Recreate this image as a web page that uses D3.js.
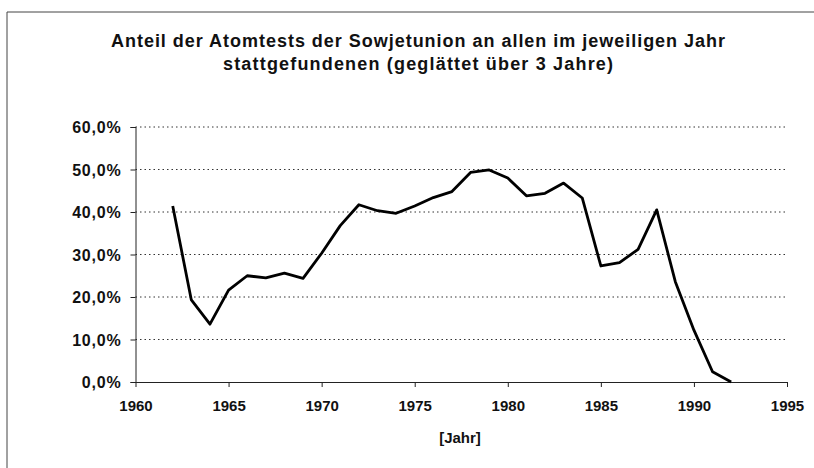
<!DOCTYPE html>
<html>
<head>
<meta charset="utf-8">
<script src="https://cdn.jsdelivr.net/npm/d3@7"></script>
<style>
  body { margin: 0; background: #fff; }
  text { font-family: "Liberation Sans", Arial, sans-serif; font-weight: bold; fill: #111; }
</style>
</head>
<body>
<svg class="chart" width="814" height="468"></svg>
<script>
// years and smoothed share of Soviet nuclear tests (%)
const years = [1962, 1963, 1964, 1965, 1966, 1967, 1968, 1969, 1970, 1971,
  1972, 1973, 1974, 1975, 1976, 1977, 1978, 1979, 1980, 1981,
  1982, 1983, 1984, 1985, 1986, 1987, 1988, 1989, 1990, 1991, 1992]
const shares = [41.4, 19.3, 13.6, 21.6, 25.0, 24.5, 25.6, 24.4, 30.3, 36.8,
  41.7, 40.3, 39.7, 41.4, 43.4, 44.8, 49.3, 49.9, 48.0, 43.8,
  44.4, 46.8, 43.3, 27.3, 28.1, 31.2, 40.5, 23.6, 12.2, 2.4, 0]
const xTicks = [1960, 1965, 1970, 1975, 1980, 1985, 1990, 1995]
const yTicks = [0, 10, 20, 30, 40, 50, 60]
const titleLines = [
  'Anteil der Atomtests der Sowjetunion an allen im jeweiligen Jahr',
  'stattgefundenen (geglättet über 3 Jahre)'
]
const xLabel = '[Jahr]'

const svg = d3.select('svg.chart')

// outer frame (only top and left edges visible)
svg.append('path')
  .attr('d', 'M7,470 L7,12 L814,12')
  .attr('fill', 'none')
  .attr('stroke', '#444')
  .attr('stroke-width', 1)

const x = d3.scaleLinear().domain([1960, 1995]).range([135.5, 787])
const y = d3.scaleLinear().domain([0, 60]).range([382, 127])

// grid lines
svg.append('g')
  .selectAll('line')
  .data(yTicks.filter(d => d > 0))
  .enter()
  .append('line')
  .attr('x1', x(1960))
  .attr('x2', x(1995))
  .attr('y1', d => y(d))
  .attr('y2', d => y(d))
  .attr('stroke', '#333')
  .attr('stroke-width', 1)
  .attr('stroke-dasharray', '1.5,3')

// y axis
const yAxis = svg.append('g')
  .attr('transform', `translate(${x(1960)},0)`)
  .call(d3.axisLeft(y)
    .tickValues(yTicks)
    .tickSize(5)
    .tickPadding(9)
    .tickFormat(d => d3.format('.1f')(d).replace('.', ',') + '%'))
yAxis.select('.domain').attr('stroke', '#222')
yAxis.selectAll('.tick line').attr('stroke', '#222')
yAxis.selectAll('text')
  .style('font-size', '16px')
  .style('letter-spacing', '0.8px')
  .attr('dy', '0.35em')

// x axis
const xAxis = svg.append('g')
  .attr('transform', `translate(0,${y(0)})`)
  .call(d3.axisBottom(x)
    .tickValues(xTicks)
    .tickSize(5)
    .tickSizeOuter(0)
    .tickPadding(13)
    .tickFormat(d3.format('d')))
xAxis.select('.domain').attr('stroke', '#222')
xAxis.selectAll('.tick line').attr('stroke', '#222')
xAxis.selectAll('text').style('font-size', '15px')

// data line
svg.append('path')
  .datum(years.map((yr, i) => [yr, shares[i]]))
  .attr('fill', 'none')
  .attr('stroke', '#000')
  .attr('stroke-width', 2.8)
  .attr('stroke-linejoin', 'round')
  .attr('d', d3.line().x(d => x(d[0])).y(d => y(d[1])))

// title
const titleWidths = [614, 390]
svg.append('g')
  .selectAll('text')
  .data(titleLines)
  .enter()
  .append('text')
  .attr('x', 418)
  .attr('y', (d, i) => 47 + i * 23)
  .attr('text-anchor', 'middle')
  .attr('textLength', (d, i) => titleWidths[i])
  .attr('lengthAdjust', 'spacing')
  .style('font-size', '18px')
  .text(d => d)

// x label
svg.append('text')
  .attr('x', 460)
  .attr('y', 443)
  .attr('text-anchor', 'middle')
  .style('font-size', '15px')
  .text(xLabel)
</script>
</body>
</html>
